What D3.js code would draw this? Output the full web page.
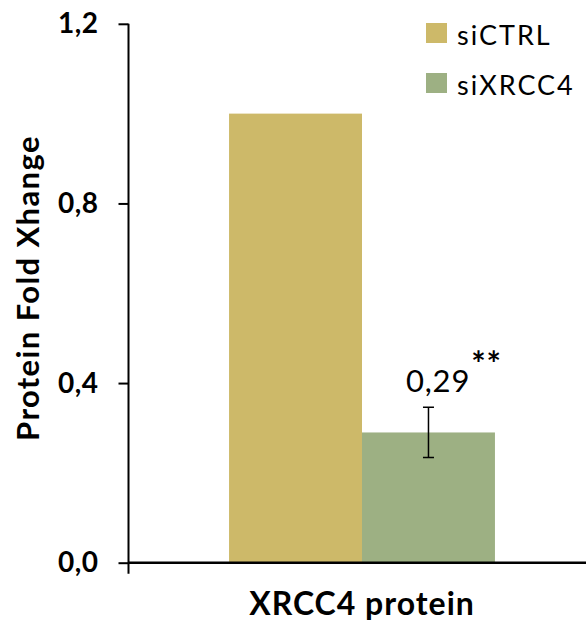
<!DOCTYPE html>
<html>
<head>
<meta charset="utf-8">
<script src="https://cdn.jsdelivr.net/npm/d3@7"></script>
<style>
  html, body { margin: 0; padding: 0; background: #fff; }
  svg { display: block; }
  text { font-family: Lato, "Open Sans", sans-serif; fill: #000; }
</style>
</head>
<body>
<svg id="chart" width="586" height="630"></svg>
<script>
// Protein fold change of XRCC4 after knockdown
const categories = ["XRCC4 protein"];
const seriesNames = ["siCTRL", "siXRCC4"];
const seriesColors = ["#CDB969", "#9DB083"];
const values = [[1.0, 0.29]];          // per category, per series
const errors = [[null, 0.056]];
const valueLabels = [[null, "0,29"]];
const significance = [[null, "**"]];
const yTicks = [0, 0.4, 0.8, 1.2];
const yTickLabels = ["0,0", "0,4", "0,8", "1,2"];
const yTitle = "Protein Fold Xhange";

const svg = d3.select("#chart");

const y = d3.scaleLinear().domain([0, 1.2]).range([562.7, 23.8]);
const x0 = d3.scaleBand().domain(categories).range([128, 596]).paddingOuter(0.38).paddingInner(0);
const x1 = d3.scaleBand().domain(seriesNames).range([0, x0.bandwidth()]).padding(0);

// Y axis
const yAxis = d3.axisLeft(y)
  .tickValues(yTicks)
  .tickFormat((d, i) => yTickLabels[i])
  .tickSizeOuter(0)
  .tickSizeInner(10)
  .tickPadding(20);
const gy = svg.append("g").attr("transform", "translate(128.5,0)").call(yAxis);
gy.select(".domain").attr("stroke", "#000").attr("stroke-width", 2)
  .attr("d", `M0,${y(1.2)}V${y(0) + 11}`);
gy.selectAll(".tick line").attr("stroke", "#000").attr("stroke-width", 2);
gy.selectAll(".tick text")
  .style("font-family", "Lato, sans-serif")
  .style("font-weight", "bold")
  .style("font-size", "28px")
  .style("letter-spacing", "0.5px")
  .attr("fill", "#000");

// Bars
const groups = svg.append("g").selectAll("g")
  .data(categories)
  .join("g")
  .attr("transform", d => `translate(${x0(d)},0)`);

groups.selectAll("rect")
  .data((d, ci) => seriesNames.map((s, si) => ({ s, si, v: values[ci][si] })))
  .join("rect")
  .attr("x", d => x1(d.s))
  .attr("width", x1.bandwidth())
  .attr("y", d => y(d.v))
  .attr("height", d => y(0) - y(d.v))
  .attr("fill", d => seriesColors[d.si]);

// Error bars and value labels
groups.each(function(c, ci) {
  const g = d3.select(this);
  seriesNames.forEach((s, si) => {
    const e = errors[ci][si];
    if (e == null) return;
    const cx = x1(s) + x1.bandwidth() / 2;
    const v = values[ci][si];
    const p = d3.path();
    p.moveTo(cx, y(v + e)); p.lineTo(cx, y(v - e));
    p.moveTo(cx - 5.5, y(v + e)); p.lineTo(cx + 5.5, y(v + e));
    p.moveTo(cx - 5.5, y(v - e)); p.lineTo(cx + 5.5, y(v - e));
    g.append("path").attr("d", p.toString()).attr("stroke", "#000").attr("stroke-width", 1.5).attr("fill", "none");

    const lbl = valueLabels[ci][si];
    if (lbl) {
      const t = g.append("text")
        .attr("x", x1(s) + 44)
        .attr("y", y(v + e) - 15)
        .attr("text-anchor", "start")
        .style("font-size", "31px")
        .style("letter-spacing", "0.8px");
      t.append("tspan").text(lbl);
      const sig = significance[ci][si];
      if (sig) {
        t.append("tspan").attr("dy", -16).attr("dx", 1)
          .style("font-size", "34px").style("font-weight", "bold").text(sig);
      }
    }
  });
});

// X axis baseline
const xAxis = d3.axisBottom(x0).tickSize(0).tickFormat(() => "");
const gx = svg.append("g").attr("transform", `translate(0,${y(0)})`).call(xAxis);
gx.select(".domain").attr("stroke", "#000").attr("stroke-width", 2.5)
  .attr("d", `M128,0H586`);

// X category title
svg.append("text")
  .attr("x", x0(categories[0]) + x0.bandwidth() / 2)
  .attr("y", 615)
  .attr("text-anchor", "middle")
  .style("font-weight", "bold")
  .style("font-size", "32px")
  .style("letter-spacing", "1px")
  .text(categories[0]);

// Y title
svg.append("text")
  .attr("transform", `translate(39,${288}) rotate(-90)`)
  .attr("text-anchor", "middle")
  .style("font-weight", "bold")
  .style("font-size", "31px")
  .style("letter-spacing", "1.4px")
  .text(yTitle);

// Legend
const legend = svg.append("g").selectAll("g")
  .data(seriesNames)
  .join("g")
  .attr("transform", (d, i) => `translate(426,${23 + i * 50})`);
legend.append("rect").attr("width", 21).attr("height", 20).attr("fill", (d, i) => seriesColors[i]);
legend.append("text").attr("x", 31).attr("y", 22)
  .style("font-size", "27px").style("letter-spacing", "2px").text(d => d);
</script>
</body>
</html>
